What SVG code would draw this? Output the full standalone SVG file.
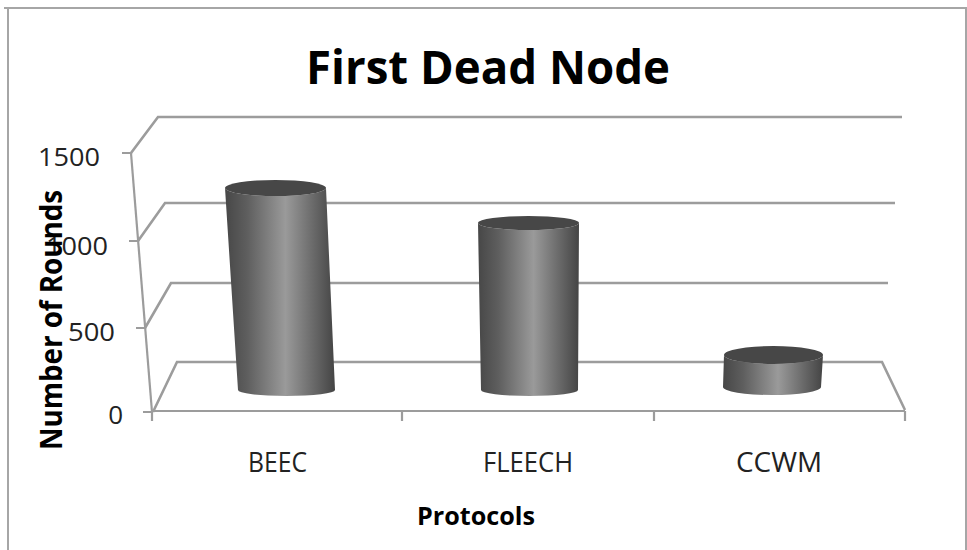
<svg xmlns="http://www.w3.org/2000/svg" width="967" height="550" viewBox="0 0 967 550">
  <defs>
    <linearGradient id="cylShade" x1="0" y1="0" x2="1" y2="0">
      <stop offset="0" stop-color="#474747"/>
      <stop offset="0.2" stop-color="#5e5e5e"/>
      <stop offset="0.55" stop-color="#9a9a9a"/>
      <stop offset="0.8" stop-color="#6a6a6a"/>
      <stop offset="1" stop-color="#444444"/>
    </linearGradient>
  </defs>
  <style>
    .frame { fill: none; stroke: #a6a6a6; stroke-width: 2; }
    .grid { fill: none; stroke: #9c9c9c; stroke-width: 2.6; stroke-linejoin: miter; }
    .axis { fill: none; stroke: #9c9c9c; stroke-width: 2.2; }
    .body { fill: url(#cylShade); }
    .cap { fill: #474747; }
    .title { font-family: "Open Sans", "Liberation Sans", sans-serif; font-weight: bold; font-size: 46px; fill: #000; }
    .tick { font-family: "Open Sans", "Liberation Sans", sans-serif; font-size: 26px; fill: #222; text-anchor: end; }
    .cat { font-family: "Open Sans", "Liberation Sans", sans-serif; font-size: 27px; fill: #222; text-anchor: middle; }
    .axtitle { font-family: "Open Sans", "Liberation Sans", sans-serif; font-weight: bold; fill: #000; text-anchor: middle; }
  </style>

  <rect width="967" height="550" fill="#ffffff"/>

  <!-- chart area frame -->
  <path class="frame" d="M4,8 H966 V550 M8,8 V550"/>

  <!-- title -->
  <text class="title" x="306" y="83.5" textLength="364" lengthAdjust="spacingAndGlyphs">First Dead Node</text>

  <!-- back wall gridlines and floor -->
  <g id="gridlines">
    <path class="grid" d="M131,153 L158,117 H902"/>
    <path class="grid" d="M138,241 L165,203 H895"/>
    <path class="grid" d="M145,328 L171,283 H888"/>
    <path class="grid" d="M153,412 L177,362 H882 L905,410"/>
  </g>

  <!-- axes and tick marks -->
  <g id="axes">
    <path class="axis" d="M131,153 L152,412"/>
    <path class="axis" d="M152,411 H905"/>
    <path class="axis" d="M122,153 H131 M129,241 H138 M136,328 H145 M143,412 H153"/>
    <path class="axis" d="M152,411 V421 M402,411 V421 M654,411 V421 M905,411 V421"/>
  </g>

  <!-- value axis labels -->
  <g id="value-labels">
    <text class="tick" x="100" y="166" textLength="62" lengthAdjust="spacingAndGlyphs">1500</text>
    <text class="tick" x="108" y="255" textLength="62" lengthAdjust="spacingAndGlyphs">1000</text>
    <text class="tick" x="115" y="341" textLength="47" lengthAdjust="spacingAndGlyphs">500</text>
    <text class="tick" x="123" y="424">0</text>
  </g>

  <!-- cylinders -->
  <g id="bar-beec">
    <path class="body" d="M225,188 L238,390 A48.5,6 0 0 0 335,390 L326,188 A50.5,8 0 0 1 225,188 Z"/>
    <ellipse class="cap" cx="275.5" cy="188" rx="50.5" ry="8"/>
  </g>
  <g id="bar-fleech">
    <path class="body" d="M478,223 L481,390 A48.5,6 0 0 0 578,390 L579,223 A50.5,7 0 0 1 478,223 Z"/>
    <ellipse class="cap" cx="528.5" cy="223" rx="50.5" ry="7"/>
  </g>
  <g id="bar-ccwm">
    <path class="body" d="M724,355 L723,387 A49,8 0 0 0 821,387 L823,355 A49.5,9 0 0 1 724,355 Z"/>
    <ellipse class="cap" cx="773.5" cy="355" rx="49.5" ry="9"/>
  </g>

  <!-- category labels -->
  <g id="category-labels">
    <text class="cat" x="277.5" y="472" textLength="59" lengthAdjust="spacingAndGlyphs">BEEC</text>
    <text class="cat" x="528" y="472" textLength="90" lengthAdjust="spacingAndGlyphs">FLEECH</text>
    <text class="cat" x="779" y="472" textLength="86" lengthAdjust="spacingAndGlyphs">CCWM</text>
  </g>

  <!-- axis titles -->
  <text class="axtitle" x="476" y="525" font-size="25.5" textLength="118" lengthAdjust="spacingAndGlyphs">Protocols</text>
  <text class="axtitle" font-size="30" textLength="260" lengthAdjust="spacingAndGlyphs" transform="translate(62,320) rotate(-90)" x="0" y="0">Number of Rounds</text>
</svg>
